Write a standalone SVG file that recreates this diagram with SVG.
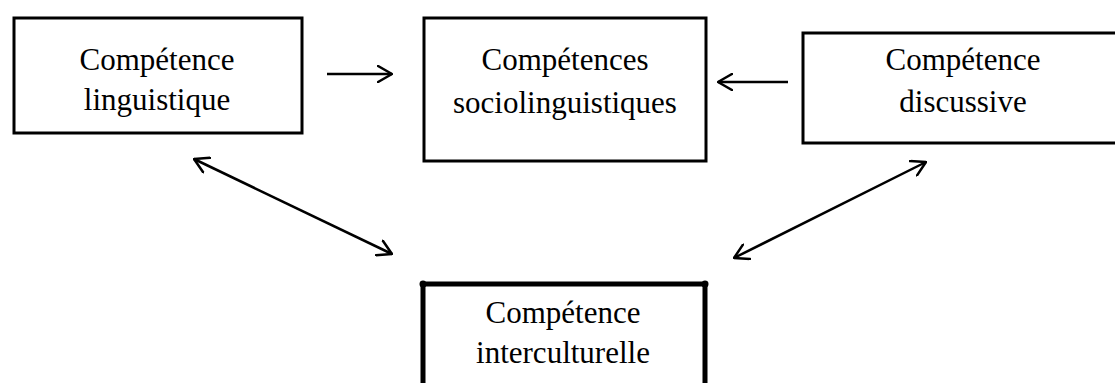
<svg xmlns="http://www.w3.org/2000/svg" width="1115" height="383" viewBox="0 0 1115 383">
<style>
.box{fill:#fff;stroke:#000;stroke-width:3}
.thick{fill:none;stroke:#000;stroke-width:5}
.lbl{font-family:"Liberation Serif","Times New Roman",serif;font-size:31px;fill:#000;text-anchor:middle}
.conn{stroke:#000;stroke-width:2.5;fill:none}
</style>
<defs>
<marker id="ah" viewBox="0 0 16 18" refX="15" refY="9" markerWidth="16" markerHeight="18" markerUnits="userSpaceOnUse" orient="auto-start-reverse">
<path d="M1,1 L15,9 L1,17" fill="none" stroke="#000" stroke-width="2.5" stroke-linecap="round" stroke-linejoin="round"/>
</marker>
</defs>
<rect width="1115" height="383" fill="#fff"/>
<g id="n1">
<rect class="box" x="14" y="18" width="288" height="115"/>
<text class="lbl" x="157" y="70">Compétence</text>
<text class="lbl" x="157" y="110">linguistique</text>
</g>
<g id="n2">
<rect class="box" x="424" y="18" width="282" height="143"/>
<text class="lbl" x="565" y="70">Compétences</text>
<text class="lbl" x="565" y="113">sociolinguistiques</text>
</g>
<g id="n3">
<rect class="box" x="803" y="33" width="330" height="110"/>
<text class="lbl" x="963" y="70">Compétence</text>
<text class="lbl" x="963" y="112">discussive</text>
</g>
<g id="n4">
<path class="thick" d="M423,395 V284 H705 V395"/>
<circle cx="423" cy="284" r="3.5" fill="#000"/>
<circle cx="705" cy="284" r="3.5" fill="#000"/>
<text class="lbl" x="563" y="323">Compétence</text>
<text class="lbl" x="563" y="363">interculturelle</text>
</g>
<g id="connectors">
<line class="conn" x1="327" y1="74" x2="392" y2="74" marker-end="url(#ah)"/>
<line class="conn" x1="788" y1="82" x2="718" y2="82" marker-end="url(#ah)"/>
<line class="conn" x1="194" y1="159" x2="392" y2="254" marker-start="url(#ah)" marker-end="url(#ah)"/>
<line class="conn" x1="926" y1="162" x2="734" y2="258" marker-start="url(#ah)" marker-end="url(#ah)"/>
</g>
</svg>
